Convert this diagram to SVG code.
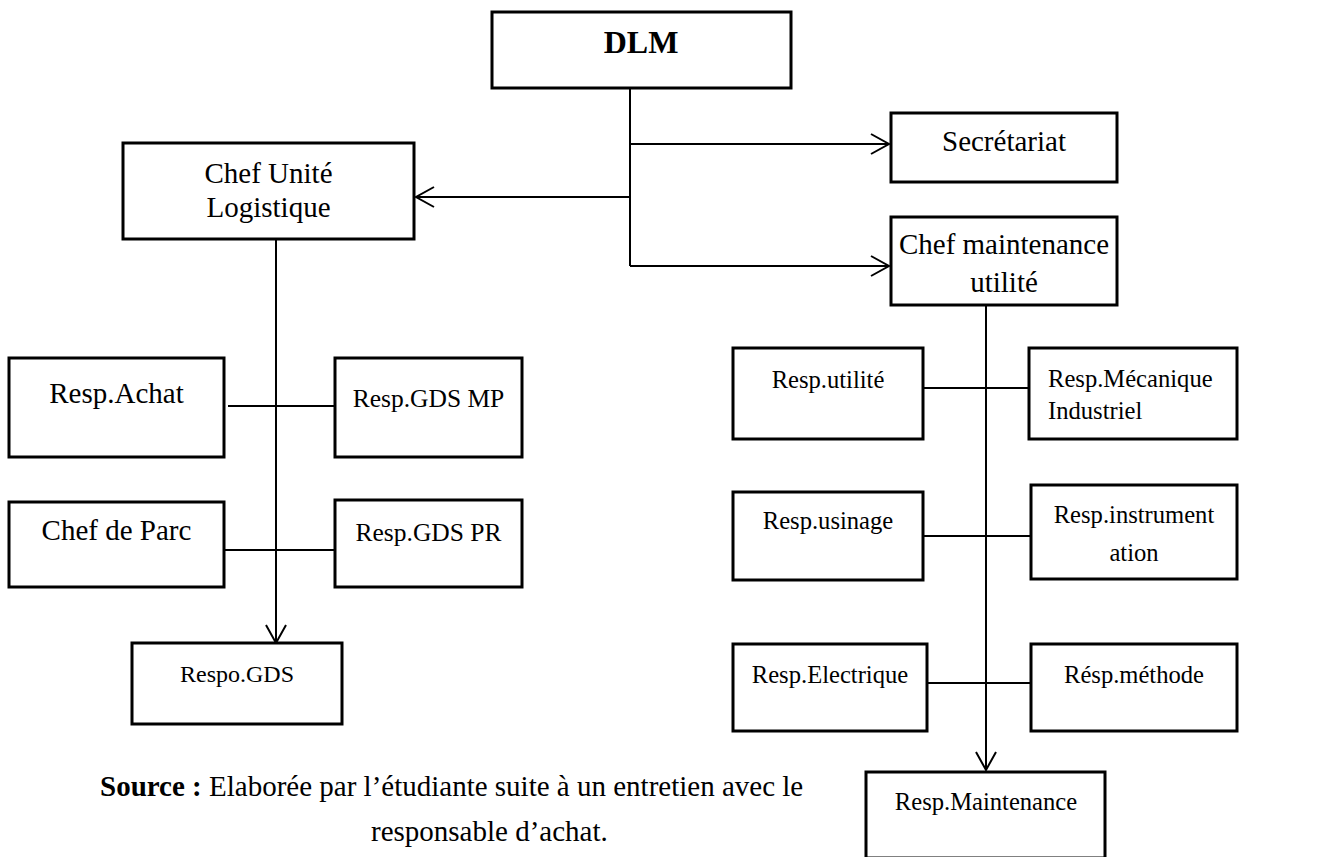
<svg xmlns="http://www.w3.org/2000/svg" width="1338" height="857" viewBox="0 0 1338 857">
<style>
.box{fill:#fff;stroke:#000;stroke-width:3}
.t{font-family:"Liberation Serif","Times New Roman",serif;fill:#000;text-anchor:middle}
.l{font-size:29px}
.s{font-size:24.6px}
.ln{stroke:#000;stroke-width:2;fill:none}
</style>
<defs>
<marker id="arr" markerUnits="userSpaceOnUse" markerWidth="24" markerHeight="24" viewBox="-20 -12 24 24" refX="0" refY="0" orient="auto">
<path d="M-18,-10 L0,0 L-18,10" fill="none" stroke="#000" stroke-width="2"/>
</marker>
</defs>
<rect width="1338" height="857" fill="#fff"/>
<g id="connectors">
<path class="ln" d="M630,88 V266"/>
<path class="ln" d="M630,144 H889" marker-end="url(#arr)"/>
<path class="ln" d="M630,266 H889" marker-end="url(#arr)"/>
<path class="ln" d="M630,197 H416" marker-end="url(#arr)"/>
<path class="ln" d="M276,239 V643" marker-end="url(#arr)"/>
<path class="ln" d="M228,406 H335"/>
<path class="ln" d="M224,550 H335"/>
<path class="ln" d="M986,305 V770" marker-end="url(#arr)"/>
<path class="ln" d="M923,388 H1029"/>
<path class="ln" d="M923,536 H1031"/>
<path class="ln" d="M924,683 H1031"/>
</g>
<g id="dlm"><rect class="box" x="492" y="12" width="299" height="76"/><text class="t" x="641" y="53" font-size="32" font-weight="bold">DLM</text></g>
<g id="secretariat"><rect class="box" x="891" y="113" width="226" height="69"/><text class="t l" x="1004" y="151">Secrétariat</text></g>
<g id="chef-unite"><rect class="box" x="123" y="143" width="291" height="96"/><text class="t l" x="268.5" y="183">Chef Unité</text><text class="t l" x="268.5" y="217">Logistique</text></g>
<g id="chef-maintenance"><rect class="box" x="891" y="217" width="226" height="88"/><text class="t l" x="1004" y="254">Chef maintenance</text><text class="t l" x="1004" y="292">utilité</text></g>
<g id="resp-achat"><rect class="box" x="9" y="358" width="215" height="99"/><text class="t l" x="116.5" y="403">Resp.Achat</text></g>
<g id="resp-gds-mp"><rect class="box" x="335" y="358" width="187" height="99"/><text class="t" font-size="25.5" x="428.5" y="407">Resp.GDS MP</text></g>
<g id="chef-parc"><rect class="box" x="9" y="502" width="215" height="85"/><text class="t l" x="116.5" y="540">Chef de Parc</text></g>
<g id="resp-gds-pr"><rect class="box" x="335" y="500" width="187" height="87"/><text class="t" font-size="25.5" x="428.5" y="541">Resp.GDS PR</text></g>
<g id="respo-gds"><rect class="box" x="132" y="643" width="210" height="81"/><text class="t" font-size="24" x="237" y="682">Respo.GDS</text></g>
<g id="resp-utilite"><rect class="box" x="733" y="348" width="190" height="91"/><text class="t s" x="828" y="388">Resp.utilité</text></g>
<g id="resp-mecanique"><rect class="box" x="1029" y="348" width="208" height="91"/><text class="t s" style="text-anchor:start" x="1048" y="387">Resp.Mécanique</text><text class="t s" style="text-anchor:start" x="1048" y="419">Industriel</text></g>
<g id="resp-usinage"><rect class="box" x="733" y="492" width="190" height="88"/><text class="t s" x="828" y="529">Resp.usinage</text></g>
<g id="resp-instrumentation"><rect class="box" x="1031" y="485" width="206" height="94"/><text class="t s" x="1134" y="523">Resp.instrument</text><text class="t s" x="1134" y="561">ation</text></g>
<g id="resp-electrique"><rect class="box" x="733" y="644" width="194" height="87"/><text class="t s" x="830" y="683">Resp.Electrique</text></g>
<g id="resp-methode"><rect class="box" x="1031" y="644" width="206" height="87"/><text class="t s" x="1134" y="683">Résp.méthode</text></g>
<g id="resp-maintenance"><rect class="box" x="866" y="772" width="239" height="86"/><text class="t s" x="986" y="810">Resp.Maintenance</text></g>
<g id="source">
<text class="t" style="text-anchor:start" font-size="29" x="100" y="796"><tspan font-weight="bold">Source :</tspan> Elaborée par l’étudiante suite à un entretien avec le</text>
<text class="t" style="text-anchor:start" font-size="29" x="371" y="841">responsable d’achat.</text>
</g>
</svg>
